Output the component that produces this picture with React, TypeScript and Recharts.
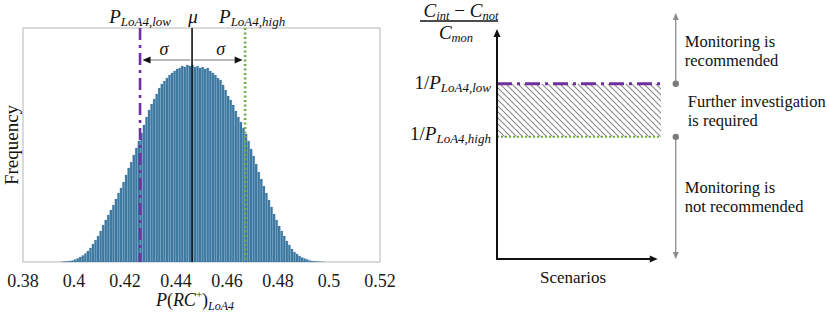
import React from "react";
import { ComposedChart, Bar, XAxis, YAxis, ReferenceLine, ReferenceArea, ReferenceDot } from "recharts";

const SERIF = "'Liberation Serif', 'Times New Roman', serif";

// histogram of P(RC+)_LoA4, bins of 0.001 starting at 0.394
const binStart = 0.394;
const binWidth = 0.001;
const counts = [
  0, 3, 5, 7, 10, 15, 25, 35, 50, 65,
  85, 110, 140, 180, 220, 260, 310, 370, 420, 470,
  520, 570, 630, 690, 740, 800, 870, 940, 1000, 1070,
  1140, 1210, 1290, 1370, 1450, 1520, 1580, 1630, 1680, 1740,
  1780, 1810, 1840, 1870, 1890, 1910, 1930, 1940, 1960, 1950,
  1970, 1960, 1970, 1950, 1960, 1940, 1950, 1930, 1940, 1910,
  1890, 1870, 1840, 1820, 1770, 1720, 1660, 1620, 1570, 1510,
  1450, 1400, 1340, 1280, 1210, 1130, 1060, 980, 900, 830,
  760, 690, 620, 550, 480, 420, 360, 310, 260, 210,
  170, 130, 100, 80, 60, 45, 35, 25, 15, 10,
  7, 5, 3, 2,
];
const xTicks = [0.38, 0.4, 0.42, 0.44, 0.46, 0.48, 0.5, 0.52];

const mu = 0.4463;
const pLow = 0.4259;
const pHigh = 0.4671;

const ratioLow = 1 / pLow;
const ratioHigh = 1 / pHigh;

const upperText = ["Monitoring is", "recommended"];
const middleText = ["Further investigation", "is required"];
const lowerText = ["Monitoring is", "not recommended"];

const histData = counts.map((c, i) => ({ x: +(binStart + binWidth * (i + 0.5)).toFixed(4), count: c }));

const Y_MAX = 2340;
const SIGMA_Y = 2020;
const R_MIN = 1.664;
const R_MAX = 2.562;
const R_TOP = 2.624;
const ARROW_X = 1.09;

function MathP({ x, y, sub, anchor = "middle", size = 19, subSize = 13, prefix }: any) {
  return (
    <text x={x} y={y} textAnchor={anchor} style={{ fontFamily: SERIF }} fill="#111">
      {prefix && <tspan fontSize={size}>{prefix}</tspan>}
      <tspan fontSize={size} fontStyle="italic">P</tspan>
      <tspan fontSize={subSize} fontStyle="italic" dy={3}>{sub}</tspan>
    </text>
  );
}

function BoxShape(p: any) {
  const { x, y, width, height } = p;
  return (
    <g>
      <rect x={x} y={y} width={width} height={height} fill="none" stroke="#b5b5b5" strokeWidth={1} />
      <text x={x - 11} y={y + height / 2} transform={`rotate(-90 ${x - 11} ${y + height / 2})`} textAnchor="middle"
        style={{ fontFamily: SERIF }} fontSize={19} fill="#111" dy={6}>Frequency</text>
      <text x={x + 172} y={y + height + 44} textAnchor="middle" style={{ fontFamily: SERIF }} fontSize={18} fill="#111">
        <tspan fontStyle="italic">P</tspan>
        <tspan>(</tspan>
        <tspan fontStyle="italic">RC</tspan>
        <tspan fontSize={11} dy={-8}>+</tspan>
        <tspan dy={8}>)</tspan>
        <tspan fontSize={12} fontStyle="italic" dy={4}>LoA4</tspan>
      </text>
    </g>
  );
}

function XTick(p: any) {
  const { x, y, payload } = p;
  return (
    <text x={x} y={y + 25} textAnchor="middle" style={{ fontFamily: SERIF }} fontSize={18} fill="#1a1a1a">
      {String(payload.value)}
    </text>
  );
}

function VLine(p: any) {
  const { x1, y1, y2, color, width, dash, kind } = p;
  const top = Math.min(y1, y2);
  const bottom = Math.max(y1, y2);
  let label = null;
  if (kind === "low") label = <MathP x={x1} y={top - 5} sub="LoA4,low" />;
  if (kind === "high") label = <MathP x={x1 + 7} y={top - 5} sub="LoA4,high" />;
  if (kind === "mu")
    label = (
      <text x={x1 + 1} y={top - 5} textAnchor="middle" style={{ fontFamily: SERIF }} fontSize={19} fontStyle="italic" fill="#111">μ</text>
    );
  return (
    <g>
      <line x1={x1} y1={top} x2={x1} y2={bottom} stroke={color} strokeWidth={width} strokeDasharray={dash} />
      {label}
    </g>
  );
}

function SigmaArrow(p: any) {
  const { x1, y1, x2 } = p;
  const dir = x2 > x1 ? 1 : -1;
  const start = x1 + dir * 1.5;
  const tip = x2 - dir * 2.5;
  const base = tip - dir * 8;
  return (
    <g>
      <line x1={start} y1={y1} x2={base} y2={y1} stroke="#a3a3a3" strokeWidth={1.3} />
      <polygon points={`${tip},${y1} ${base},${y1 - 3.5} ${base},${y1 + 3.5}`} fill="#111" />
      <text x={(x1 + x2) / 2 + dir * 2} y={y1 - 5} textAnchor="middle" style={{ fontFamily: SERIF }} fontSize={18}
        fontStyle="italic" fill="#111">σ</text>
    </g>
  );
}

function AxisArrow(p: any) {
  const { x1, y1, x2, y2, kind } = p;
  const vertical = Math.abs(x1 - x2) < 1;
  const sx = vertical ? x1 : Math.min(x1, x2);
  const sy = vertical ? Math.max(y1, y2) : y1;
  const ex = vertical ? x1 : Math.max(x1, x2);
  const ey = vertical ? Math.min(y1, y2) : y1;
  const head = vertical
    ? `${ex},${ey} ${ex - 3.5},${ey + 8} ${ex + 3.5},${ey + 8}`
    : `${ex},${ey} ${ex - 8},${ey - 3.5} ${ex - 8},${ey + 3.5}`;
  return (
    <g>
      <line x1={vertical ? sx : sx - 1} y1={vertical ? sy + 1 : sy} x2={vertical ? ex : ex - 6} y2={vertical ? ey + 6 : ey}
        stroke="#111" strokeWidth={2} />
      <polygon points={head} fill="#111" />
      {kind === "y" && (
        <g style={{ fontFamily: SERIF }} fill="#111">
          <text x={ex - 36} y={ey - 12} textAnchor="middle" fontSize={19}>
            <tspan fontStyle="italic">C</tspan>
            <tspan fontSize={12.5} fontStyle="italic" dy={3}>int</tspan>
            <tspan dy={-3}> − </tspan>
            <tspan fontStyle="italic">C</tspan>
            <tspan fontSize={12.5} fontStyle="italic" dy={3}>not</tspan>
          </text>
          <line x1={ex - 77} y1={ey - 8} x2={ex + 1} y2={ey - 8} stroke="#111" strokeWidth={1.3} />
          <text x={ex - 41} y={ey + 10} textAnchor="middle" fontSize={19}>
            <tspan fontStyle="italic">C</tspan>
            <tspan fontSize={12.5} fontStyle="italic" dy={3}>mon</tspan>
          </text>
        </g>
      )}
      {kind === "x" && (
        <text x={sx + 76} y={sy + 24} textAnchor="middle" style={{ fontFamily: SERIF }} fontSize={17} fill="#111">Scenarios</text>
      )}
    </g>
  );
}

function TextBlock({ x, y, lines }: any) {
  return (
    <text x={x} y={y} style={{ fontFamily: SERIF }} fontSize={16.5} fill="#111">
      {lines.map((t: string, i: number) => (
        <tspan key={i} x={x} dy={i === 0 ? 0 : 19}>{t}</tspan>
      ))}
    </text>
  );
}

function GrayArrow(p: any) {
  const { x1, y1, y2, lines, shift } = p;
  const dir = y2 > y1 ? 1 : -1;
  const base = y2 - dir * 7;
  const mid = (y1 + y2) / 2;
  return (
    <g>
      <line x1={x1} y1={y1} x2={x1} y2={base} stroke="#8c8c8c" strokeWidth={1.3} />
      <polygon points={`${x1},${y2} ${x1 - 3},${base} ${x1 + 3},${base}`} fill="#8c8c8c" />
      <circle cx={x1} cy={y1} r={3.2} fill="#7a7a7a" />
      <TextBlock x={x1 + 9} y={mid + shift} lines={lines} />
    </g>
  );
}

function MiddleText(p: any) {
  const { cx, cy } = p;
  return <TextBlock x={cx + 12} y={cy - 3} lines={middleText} />;
}

function RatioTick(p: any) {
  const { x, y, payload } = p;
  const isLow = Math.abs(payload.value - ratioLow) < 1e-6;
  return <MathP x={x} y={y + (isLow ? 5 : 3)} anchor="end" prefix="1/" sub={isLow ? "LoA4,low" : "LoA4,high"} />;
}

function Histogram() {
  return (
    <ComposedChart width={410} height={314} data={histData} margin={{ top: 28, right: 30, left: 23, bottom: 22 }}
      barCategoryGap={0} barGap={0}>
      <XAxis dataKey="x" type="number" domain={[0.38, 0.52]} ticks={xTicks} interval={0} allowDataOverflow
        axisLine={false} tickLine={false} tickSize={0} tickMargin={0} height={30}
        tick={(p: any) => <XTick {...p} />} />
      <XAxis xAxisId="top" orientation="top" type="number" domain={[0.38, 0.52]} ticks={xTicks} interval={0}
        mirror tick={false} axisLine={false} tickSize={4} tickLine={{ stroke: "#a0a0a0" }} />
      <YAxis type="number" domain={[0, Y_MAX]} hide allowDataOverflow />
      <ReferenceArea x1={0.38} x2={0.52} y1={0} y2={Y_MAX} ifOverflow="visible" shape={(p: any) => <BoxShape {...p} />} />
      <Bar dataKey="count" fill="#3e79a2" stroke="#4a84ac" strokeWidth={0.2} barSize={2.6} isAnimationActive={false} />
      <ReferenceLine x={pLow} ifOverflow="visible"
        shape={(p: any) => <VLine {...p} kind="low" color="#7030a0" width={2.6} dash="12 5 3 5" />} />
      <ReferenceLine x={mu} ifOverflow="visible"
        shape={(p: any) => <VLine {...p} kind="mu" color="#111" width={1.6} />} />
      <ReferenceLine x={pHigh} ifOverflow="visible"
        shape={(p: any) => <VLine {...p} kind="high" color="#70ad47" width={2.6} dash="2 2.5" />} />
      <ReferenceLine segment={[{ x: mu, y: SIGMA_Y }, { x: pLow, y: SIGMA_Y }]} ifOverflow="visible"
        shape={(p: any) => <SigmaArrow {...p} />} />
      <ReferenceLine segment={[{ x: mu, y: SIGMA_Y }, { x: pHigh, y: SIGMA_Y }]} ifOverflow="visible"
        shape={(p: any) => <SigmaArrow {...p} />} />
    </ComposedChart>
  );
}

function DecisionChart() {
  return (
    <ComposedChart width={419} height={314} data={[]} margin={{ top: 29, right: 4, left: 0, bottom: 55 }}>
      <defs>
        <pattern id="hatch" width="6" height="6" patternUnits="userSpaceOnUse">
          <path d="M0,0 L6,6 M-1,5 L1,7 M5,-1 L7,1" stroke="#8a8a8a" strokeWidth={1.1} />
        </pattern>
      </defs>
      <XAxis type="number" dataKey="x" domain={[0, 2]} hide allowDataOverflow />
      <YAxis type="number" domain={[R_MIN, R_MAX]} ticks={[ratioHigh, ratioLow]} interval={0} width={87}
        axisLine={false} tickLine={false} tickSize={0} tickMargin={6} tick={(p: any) => <RatioTick {...p} />}
        allowDataOverflow />
      <ReferenceArea x1={0} x2={1} y1={ratioHigh} y2={ratioLow} fill="url(#hatch)" fillOpacity={1} stroke="none"
        ifOverflow="visible" />
      <ReferenceLine segment={[{ x: 0, y: ratioLow }, { x: 1, y: ratioLow }]} ifOverflow="visible"
        stroke="#7030a0" strokeWidth={3} strokeDasharray="15 5 3 5" />
      <ReferenceLine segment={[{ x: 0, y: ratioHigh }, { x: 1, y: ratioHigh }]} ifOverflow="visible"
        stroke="#70ad47" strokeWidth={2} strokeDasharray="2 2" />
      <ReferenceLine segment={[{ x: 0, y: R_MIN }, { x: 0, y: R_MAX }]} ifOverflow="visible"
        shape={(p: any) => <AxisArrow {...p} kind="y" />} />
      <ReferenceLine segment={[{ x: 0, y: R_MIN }, { x: 0.98, y: R_MIN }]} ifOverflow="visible"
        shape={(p: any) => <AxisArrow {...p} kind="x" />} />
      <ReferenceLine segment={[{ x: ARROW_X, y: ratioLow }, { x: ARROW_X, y: R_TOP }]} ifOverflow="visible"
        shape={(p: any) => <GrayArrow {...p} lines={upperText} shift={-1} />} />
      <ReferenceLine segment={[{ x: ARROW_X, y: ratioHigh }, { x: ARROW_X, y: R_MIN }]} ifOverflow="visible"
        shape={(p: any) => <GrayArrow {...p} lines={lowerText} shift={-5} />} />
      <ReferenceDot x={ARROW_X} y={(ratioLow + ratioHigh) / 2} ifOverflow="visible"
        shape={(p: any) => <MiddleText {...p} />} />
    </ComposedChart>
  );
}

export default function App() {
  return (
    <div style={{ position: "absolute", left: 0, top: 0, width: 829, height: 314, background: "#fff", display: "flex" }}>
      <Histogram />
      <DecisionChart />
    </div>
  );
}
